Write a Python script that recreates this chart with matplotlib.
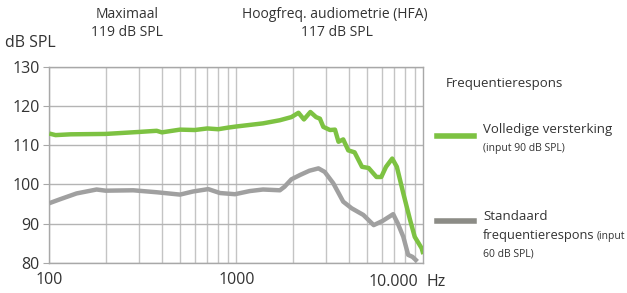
import matplotlib
matplotlib.use('Agg')
from matplotlib import pyplot as plt
from matplotlib.ticker import LogLocator, NullFormatter, FixedLocator

plt.rcParams['font.family'] = ['Open Sans', 'DejaVu Sans']

# Frequentierespons - waarden
freq_vol = [100, 108, 130, 200, 300, 375, 400, 440, 500, 600, 700, 800, 900, 1000,
            1390, 1710, 1970, 2150, 2300, 2490, 2670, 2800, 2920, 3170, 3370, 3520,
            3730, 3970, 4290, 4700, 5100, 5620, 5960, 6320, 6820, 7220, 7820, 8500,
            9000, 9800, 10000]
db_vol = [113.0, 112.6, 112.8, 112.9, 113.4, 113.7, 113.3, 113.6, 114.0, 113.9,
          114.3, 114.1, 114.5, 114.8, 115.6, 116.4, 117.2, 118.3, 116.6, 118.5,
          117.2, 116.8, 114.7, 113.9, 114.0, 110.9, 111.5, 108.7, 108.2, 104.5,
          104.2, 101.9, 101.9, 104.5, 106.6, 104.5, 97.7, 90.9, 86.6, 83.7, 82.2]

freq_std = [100, 114, 140, 179, 200, 281, 375, 500, 588, 708, 818, 984, 1180, 1390,
            1710, 1810, 1970, 2190, 2460, 2750, 2970, 3300, 3730, 4140, 4780, 5430,
            6070, 6900, 7310, 7820, 8300, 8750, 9300]
db_std = [95.2, 96.2, 97.7, 98.7, 98.4, 98.5, 98.0, 97.4, 98.2, 98.8, 97.8, 97.5,
          98.3, 98.7, 98.5, 99.4, 101.3, 102.4, 103.5, 104.1, 103.2, 100.3, 95.6,
          93.9, 92.2, 89.6, 90.7, 92.4, 90.0, 86.6, 82.0, 81.5, 80.3]

y_ticks = [80, 90, 100, 110, 120, 130]

groen = '#7dc242'
grijs = '#a0a0a0'
tekst = '#333333'

fig = plt.figure(figsize=(6.27, 2.93), dpi=100)
ax = fig.add_axes([49.3 / 627, 1 - 262.7 / 293, (423.3 - 49.3) / 627, (262.7 - 67) / 293])

ax.plot(freq_std, db_std, color=grijs, lw=3.2, solid_capstyle='butt', zorder=3)
ax.plot(freq_vol, db_vol, color=groen, lw=3.2, solid_capstyle='butt', zorder=4)

ax.set_xscale('log')
ax.set_xlim(100, 10000)
ax.set_ylim(80, 130)
ax.xaxis.set_major_locator(FixedLocator([100, 1000]))
ax.xaxis.set_minor_locator(LogLocator(base=10, subs=range(2, 10)))
ax.xaxis.set_minor_formatter(NullFormatter())
ax.set_xticklabels(['100', '1000'])
ax.set_yticks(y_ticks)
ax.set_yticklabels([str(v) for v in y_ticks])

ax.grid(which='both', axis='x', color='#c4c4c4', lw=1)
ax.grid(which='major', axis='y', color='#b4b4b4', lw=1)
for s in ax.spines.values():
    s.set_color('#a8a8a8')
    s.set_linewidth(1)
ax.tick_params(axis='y', which='major', length=4, color='#a8a8a8', labelsize=11.5,
               labelcolor=tekst, pad=3)
ax.tick_params(axis='x', which='both', length=0, labelsize=11.5, labelcolor=tekst, pad=7)

# Teksten
fig.text(5 / 627, 1 - 43 / 293, 'dB SPL', fontsize=11.5, color=tekst, va='center')
fig.text(127 / 627, 1 - 15 / 293, 'Maximaal', fontsize=10, color=tekst, ha='center', va='center')
fig.text(127 / 627, 1 - 33 / 293, '119 dB SPL', fontsize=10, color=tekst, ha='center', va='center')
fig.text(335 / 627, 1 - 15 / 293, 'Hoogfreq. audiometrie (HFA)', fontsize=10, color=tekst,
         ha='center', va='center')
fig.text(337 / 627, 1 - 33 / 293, '117 dB SPL', fontsize=10, color=tekst, ha='center', va='center')
fig.text(393 / 627, 1 - 282 / 293, '10.000', fontsize=11.5, color=tekst, ha='center', va='center')
fig.text(427 / 627, 1 - 282 / 293, 'Hz', fontsize=11.5, color=tekst, va='center')

# Legenda
fig.text(446 / 627, 1 - 83 / 293, 'Frequentierespons', fontsize=9.5, color=tekst, va='center')
fig.add_artist(plt.Line2D([436.7 / 627, 474 / 627], [1 - 136 / 293] * 2, color=groen, lw=4))
fig.text(483 / 627, 1 - 129.5 / 293, 'Volledige versterking', fontsize=9.5, color=tekst, va='center')
fig.text(483 / 627, 1 - 149 / 293, '(input 90 dB SPL)', fontsize=7.5, color=tekst, va='center')
fig.add_artist(plt.Line2D([436.7 / 627, 474 / 627], [1 - 221 / 293] * 2, color='#8c8c86', lw=4))
fig.text(483 / 627, 1 - 216.5 / 293, 'Standaard', fontsize=9.5, color=tekst, va='center')
fig.text(483 / 627, 1 - 236 / 293, 'frequentierespons', fontsize=9.3, color=tekst, va='center')
fig.text(597 / 627, 1 - 236 / 293, '(input', fontsize=7.5, color=tekst, va='center')
fig.text(483 / 627, 1 - 254 / 293, '60 dB SPL)', fontsize=7.5, color=tekst, va='center')

plt.savefig('out.png', dpi=100)
